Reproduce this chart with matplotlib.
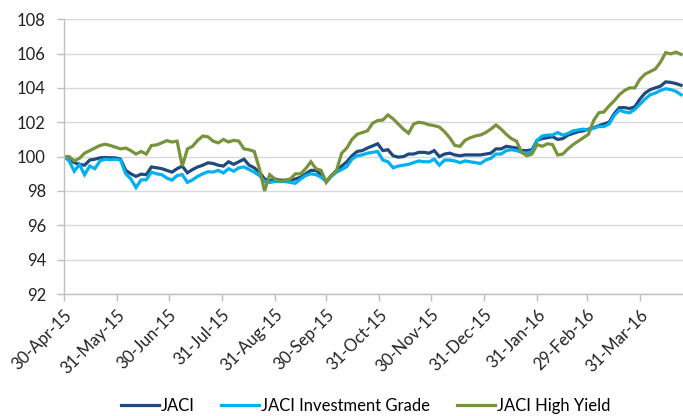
import numpy as np
import pandas as pd
import matplotlib
matplotlib.use("Agg")
import matplotlib.pyplot as plt
import matplotlib.dates as mdates

# ---- data: index levels (30-Apr-15 = 100), sampled every 3 days ------------
dates = pd.date_range("2015-04-30", periods=121, freq="3D")

jaci = [
    100.0, 99.85, 99.65, 99.55, 99.5, 99.8, 99.85, 99.93, 99.95, 99.93,
    99.93, 99.85, 99.2, 99.0, 98.85, 98.98, 98.95, 99.4, 99.35, 99.3,
    99.2, 99.1, 99.3, 99.45, 99.06, 99.25, 99.4, 99.5, 99.64, 99.6,
    99.5, 99.45, 99.7, 99.55, 99.7, 99.85, 99.5, 99.35, 99.1, 98.7,
    98.6, 98.7, 98.63, 98.63, 98.63, 98.7, 98.8, 99.0, 99.2, 99.2,
    98.95, 98.55, 98.9, 99.2, 99.45, 99.7, 100.05, 100.3, 100.35, 100.5,
    100.62, 100.75, 100.35, 100.4, 100.05, 99.97, 100.0, 100.15, 100.15, 100.25,
    100.25, 100.2, 100.35, 100.0, 100.15, 100.2, 100.1, 100.05, 100.1, 100.1,
    100.1, 100.1, 100.15, 100.2, 100.45, 100.45, 100.6, 100.55, 100.5, 100.35,
    100.35, 100.4, 100.95, 101.05, 101.1, 101.16, 101.0, 101.05, 101.25, 101.35,
    101.45, 101.5, 101.6, 101.68, 101.8, 101.9, 102.0, 102.5, 102.85, 102.85,
    102.8, 102.9, 103.35, 103.7, 103.9, 104.0, 104.1, 104.35, 104.32, 104.25,
    104.15,
]

jaci_ig = [
    100.0, 99.75, 99.15, 99.55, 98.95, 99.45, 99.3, 99.75, 99.85, 99.82,
    99.85, 99.8, 99.0, 98.7, 98.2, 98.65, 98.65, 99.1, 99.0, 98.95,
    98.75, 98.63, 98.9, 98.95, 98.5, 98.65, 98.85, 99.0, 99.12, 99.1,
    99.2, 99.05, 99.3, 99.15, 99.35, 99.4, 99.25, 99.1, 98.9, 98.55,
    98.5, 98.55, 98.55, 98.55, 98.5, 98.45, 98.7, 98.9, 99.0, 98.95,
    98.8, 98.55, 98.85, 99.1, 99.25, 99.42, 99.85, 100.05, 100.1, 100.2,
    100.25, 100.3, 99.8, 99.7, 99.35, 99.45, 99.5, 99.55, 99.65, 99.75,
    99.7, 99.7, 99.85, 99.5, 99.8, 99.8, 99.75, 99.65, 99.75, 99.7,
    99.65, 99.6, 99.8, 99.9, 100.15, 100.15, 100.35, 100.4, 100.35, 100.25,
    100.2, 100.3, 100.95, 101.2, 101.25, 101.26, 101.4, 101.25, 101.35, 101.5,
    101.55, 101.6, 101.55, 101.65, 101.75, 101.75, 101.9, 102.4, 102.7, 102.6,
    102.55, 102.75, 103.05, 103.35, 103.6, 103.7, 103.85, 103.95, 103.9, 103.8,
    103.6,
]

jaci_hy = [
    100.0, 100.0, 99.75, 99.9, 100.2, 100.35, 100.5, 100.65, 100.72, 100.65,
    100.55, 100.45, 100.5, 100.35, 100.15, 100.3, 100.15, 100.65, 100.68, 100.8,
    100.93, 100.85, 100.9, 99.45, 100.45, 100.6, 100.95, 101.2, 101.15, 100.9,
    100.8, 101.0, 100.85, 100.95, 100.9, 100.45, 100.4, 100.3, 99.3, 98.0,
    98.95, 98.7, 98.55, 98.63, 98.7, 99.0, 99.0, 99.3, 99.7, 99.3,
    99.2, 98.5, 98.9, 99.2, 100.2, 100.5, 101.0, 101.3, 101.4, 101.5,
    101.94, 102.1, 102.13, 102.43, 102.2, 101.9, 101.6, 101.36, 101.9, 102.0,
    101.95, 101.85, 101.8, 101.72, 101.45, 101.1, 100.65, 100.6, 100.95, 101.1,
    101.2, 101.26, 101.4, 101.6, 101.84, 101.6, 101.3, 101.05, 100.9, 100.25,
    100.05, 100.15, 100.7, 100.6, 100.75, 100.7, 100.1, 100.15, 100.45, 100.7,
    100.9, 101.1, 101.3, 102.1, 102.55, 102.6, 102.95, 103.25, 103.6, 103.85,
    104.0, 104.0, 104.5, 104.8, 104.95, 105.1, 105.5, 106.05, 105.98, 106.08,
    105.95,
]

series_names = ["JACI", "JACI Investment Grade", "JACI High Yield"]
tick_dates = ["2015-04-30", "2015-05-31", "2015-06-30", "2015-07-31", "2015-08-31",
              "2015-09-30", "2015-10-31", "2015-11-30", "2015-12-31", "2016-01-31",
              "2016-02-29", "2016-03-31"]
y_ticks = [92, 94, 96, 98, 100, 102, 104, 106, 108]

# ---- style -----------------------------------------------------------------
COLORS = ["#1F4A7D", "#00B0F0", "#77933C"]
GRID, AXIS, INK = "#D9D9D9", "#BFBFBF", "#222222"
plt.rcParams["font.family"] = ["Lato", "DejaVu Sans"]

fig = plt.figure(figsize=(6.83, 4.16), dpi=100)
ax = fig.add_axes([0.0937, 0.293, 0.906, 0.661])

for vals, name, c in zip([jaci, jaci_ig, jaci_hy], series_names, COLORS):
    ax.plot(dates, vals, color=c, lw=2.3, label=name, solid_joinstyle="miter")

ax.set_ylim(92, 108)
ax.set_yticks(y_ticks)
ax.set_xlim(pd.Timestamp("2015-04-30"), pd.Timestamp("2016-04-25"))
ax.set_xticks(pd.to_datetime(tick_dates))
ax.xaxis.set_major_formatter(mdates.DateFormatter("%d-%b-%y"))
plt.setp(ax.get_xticklabels(), rotation=45, ha="right", rotation_mode="anchor")

ax.grid(axis="y", color=GRID, lw=1.0)
ax.set_axisbelow(True)
for s in ["top", "right"]:
    ax.spines[s].set_visible(False)
for s in ["left", "bottom"]:
    ax.spines[s].set_color(AXIS)
    ax.spines[s].set_linewidth(1.0)
ax.tick_params(axis="both", colors=AXIS, labelcolor=INK, labelsize=12,
               length=5, width=1.0, direction="out")
ax.tick_params(axis="y", pad=8)
ax.tick_params(axis="x", pad=4)

fig.legend(loc="lower center", bbox_to_anchor=(0.535, -0.032), ncol=3,
           frameon=False, fontsize=12, handlelength=2.3, handletextpad=0.1,
           columnspacing=1.6)

fig.savefig("out.png", dpi=100)
